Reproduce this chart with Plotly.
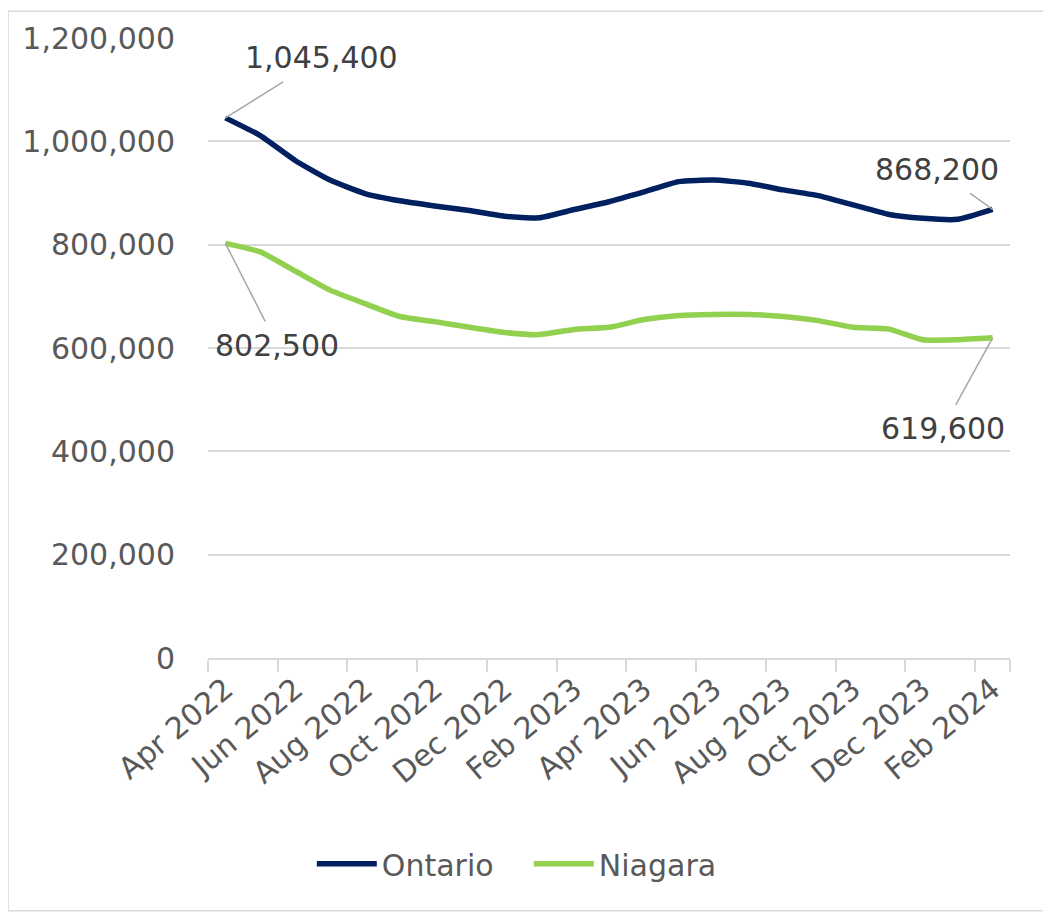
import plotly.graph_objects as go

months = ["Apr 2022", "May 2022", "Jun 2022", "Jul 2022", "Aug 2022", "Sep 2022",
          "Oct 2022", "Nov 2022", "Dec 2022", "Jan 2023", "Feb 2023", "Mar 2023",
          "Apr 2023", "May 2023", "Jun 2023", "Jul 2023", "Aug 2023", "Sep 2023",
          "Oct 2023", "Nov 2023", "Dec 2023", "Jan 2024", "Feb 2024"]

ontario = [1045400, 1011000, 963000, 925000, 899000, 885000, 875000, 866000,
           855000, 852000, 868000, 883000, 902000, 922000, 925000, 919000,
           906000, 895000, 877000, 859000, 851000, 849000, 868200]

niagara = [802500, 786000, 749000, 712000, 686000, 661000, 651000, 640000,
           630000, 626000, 636000, 640000, 655000, 663000, 665000, 665000,
           661000, 653000, 640000, 637000, 616000, 616000, 619600]

tick_months = months[::2]
y_ticks = [0, 200000, 400000, 600000, 800000, 1000000, 1200000]

FONT = "DejaVu Sans"
FS = 30
GRAY = "#595959"
DARK = "#404040"

fig = go.Figure()
fig.add_trace(go.Scatter(x=months, y=ontario, name="Ontario", mode="lines",
                         line=dict(color="#002060", width=5.5, shape="spline", smoothing=0.5)))
fig.add_trace(go.Scatter(x=months, y=niagara, name="Niagara", mode="lines",
                         line=dict(color="#92D050", width=5.5, shape="spline", smoothing=0.5)))

labels = [
    (months[0], ontario[0], 96, -60),
    (months[0], niagara[0], 52, 102),
    (months[-1], ontario[-1], -56, -40),
    (months[-1], niagara[-1], -50, 91),
]
for xm, yv, ax, ay in labels:
    fig.add_annotation(x=xm, y=yv, text=f"{yv:,}", showarrow=True, arrowhead=0,
                       arrowcolor="#A6A6A6", arrowwidth=1.5, ax=ax, ay=ay,
                       borderpad=6, standoff=0,
                       font=dict(family=FONT, size=FS, color=DARK))

# outer chart border (figure edges)
fig.add_shape(type="rect", xref="paper", yref="paper",
              x0=-200 / 802, x1=(802 + 40) / 802, y0=-254 / 623, y1=(623 + 27) / 623,
              line=dict(color="#D9D9D9", width=1.5), layer="below")

fig.update_layout(
    width=1043, height=905,
    margin=dict(l=200, r=41, t=27, b=255),
    paper_bgcolor="white", plot_bgcolor="white",
    font=dict(family=FONT, size=FS, color=GRAY),
    showlegend=True,
    legend=dict(orientation="h", x=0.40, xanchor="center", y=-0.332, yanchor="middle",
                font=dict(family=FONT, size=FS, color=GRAY), itemwidth=60,
                entrywidth=142, entrywidthmode="pixels",
                bgcolor="rgba(0,0,0,0)"),
)
fig.update_xaxes(type="category", tickmode="array", tickvals=tick_months, ticktext=tick_months,
                 tickangle=-40, ticks="outside", tickson="boundaries", ticklen=12,
                 tickcolor="#D9D9D9", tickwidth=1.5, showgrid=False,
                 showline=True, linecolor="#D9D9D9", linewidth=1.5,
                 range=[-0.5, 22.5], tickfont=dict(family=FONT, size=FS, color=GRAY))
fig.update_yaxes(range=[0, 1200000], tickmode="array", tickvals=y_ticks,
                 tickformat=",", showgrid=True, gridcolor="#D9D9D9", gridwidth=1.5,
                 zeroline=False, showline=False, ticks="", ticklabelstandoff=32,
                 tickfont=dict(family=FONT, size=FS, color=GRAY))

fig.write_html("out.html")
